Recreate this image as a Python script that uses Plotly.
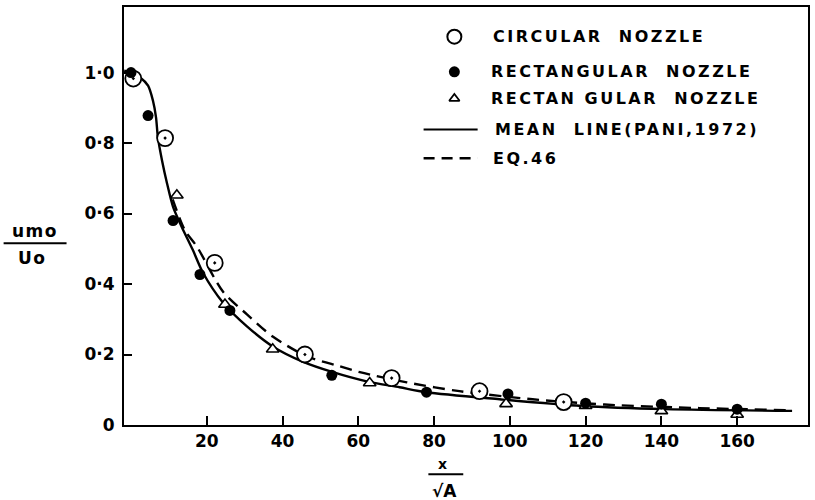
import plotly.graph_objects as go

# ---- measured centre-line velocity decay, u_mo / U_o against x / sqrt(A) ----
circ_x = [0.6, 9.0, 22.1, 45.9, 68.8, 92.0, 114.2]
circ_y = [0.983, 0.814, 0.46, 0.20, 0.133, 0.096, 0.065]

rect_x = [0.0, 4.5, 11.1, 18.2, 26.1, 53.0, 78.0, 99.5, 120.0, 140.0, 160.0]
rect_y = [1.0, 0.878, 0.58, 0.427, 0.325, 0.141, 0.093, 0.088, 0.062, 0.059, 0.045]

tri_x = [12.1, 24.8, 37.4, 63.0, 99.0, 120.0, 140.0, 160.0]
tri_y = [0.652, 0.342, 0.215, 0.119, 0.06, 0.055, 0.04, 0.03]

# mean line (Pani, 1972)
mean_x = [-1.8, 0.0, 2.4, 4.5, 5.8, 6.6, 7.1, 8.2, 9.5, 11.1, 13.4, 16.3, 19.0,
          24.3, 30.6, 37.4, 45.3, 53.3, 62.2, 70.9, 78.0, 97.3, 119.0, 141.0, 174.5]
mean_y = [1.005, 1.0, 0.986, 0.963, 0.92, 0.873, 0.816, 0.75, 0.686, 0.619, 0.562,
          0.497, 0.432, 0.347, 0.28, 0.223, 0.18, 0.15, 0.124, 0.107, 0.093, 0.073,
          0.054, 0.045, 0.04]

# equation 46
eq_x = [11.0, 14.2, 17.4, 24.3, 30.6, 37.4, 46.4, 55.0, 60.4, 72.8, 86.7, 106.0,
        125.0, 150.0, 174.0]
eq_y = [0.64, 0.553, 0.506, 0.378, 0.314, 0.251, 0.195, 0.167, 0.15, 0.121, 0.096,
        0.073, 0.058, 0.048, 0.042]

x_ticks = [20, 40, 60, 80, 100, 120, 140, 160]
y_ticks = [0, 0.2, 0.4, 0.6, 0.8, 1.0]
y_tick_text = ["0", "0·2", "0·4", "0·6", "0·8", "1·0"]

legend_labels = ["CIRCULAR  NOZZLE", "RECTANGULAR  NOZZLE", "RECTAN GULAR  NOZZLE",
                 "MEAN  LINE(PANI,1972)", "EQ.46"]

INK = "black"
FONT = "DejaVu Sans"

fig = go.Figure()

fig.add_trace(go.Scatter(x=mean_x, y=mean_y, mode="lines",
                         line=dict(color=INK, width=2.4, shape="spline", smoothing=0.8)))
fig.add_trace(go.Scatter(x=eq_x, y=eq_y, mode="lines",
                         line=dict(color=INK, width=2.4, dash="12px,7px",
                                   shape="spline", smoothing=0.8)))

fig.add_trace(go.Scatter(x=tri_x, y=tri_y, mode="markers",
                         marker=dict(symbol="triangle-up", size=11, color="white",
                                     line=dict(color=INK, width=1.6))))
fig.add_trace(go.Scatter(x=circ_x, y=circ_y, mode="markers",
                         marker=dict(symbol="circle-dot", size=16, color="white",
                                     line=dict(color=INK, width=1.8))))
fig.add_trace(go.Scatter(x=rect_x, y=rect_y, mode="markers",
                         marker=dict(symbol="circle", size=11, color=INK)))

# legend keys, drawn on an overlay axis pair spanning the plot area [0, 1]
key_rows = [0.929, 0.845, 0.781, 0.707, 0.638]
key_x = 0.483
fig.add_trace(go.Scatter(x=[key_x], y=[key_rows[0]], mode="markers", xaxis="x2", yaxis="y2",
                         marker=dict(symbol="circle-open", size=14, color=INK,
                                     line=dict(color=INK, width=2))))
fig.add_trace(go.Scatter(x=[key_x], y=[key_rows[1]], mode="markers", xaxis="x2", yaxis="y2",
                         marker=dict(symbol="circle", size=11, color=INK)))
fig.add_trace(go.Scatter(x=[key_x], y=[key_rows[2]], mode="markers", xaxis="x2", yaxis="y2",
                         marker=dict(symbol="triangle-up-open", size=9, color=INK,
                                     line=dict(color=INK, width=1.8))))
fig.add_trace(go.Scatter(x=[0.438, 0.517], y=[key_rows[3]] * 2, mode="lines",
                         xaxis="x2", yaxis="y2", line=dict(color=INK, width=2)))
fig.add_trace(go.Scatter(x=[0.438, 0.517], y=[key_rows[4]] * 2, mode="lines",
                         xaxis="x2", yaxis="y2", line=dict(color=INK, width=2.4,
                                                           dash="11px,7px")))

text_x = [0.537, 0.533, 0.533, 0.54, 0.537]
annotations = []
for lbl, tx, ty in zip(legend_labels, text_x, key_rows):
    annotations.append(dict(x=tx, y=ty, xref="paper", yref="paper",
                            text=f"<span style='letter-spacing:2.5px'>{lbl}</span>",
                            showarrow=False, xanchor="left", yanchor="middle",
                            font=dict(family=FONT, size=16, color=INK, weight="bold")))

# axis titles written as stacked fractions
label_font = dict(family=FONT, size=17, color=INK, weight="bold")
annotations += [
    dict(x=-0.13, y=0.463, xref="paper", yref="paper",
         text="<span style='letter-spacing:1.5px'>umo</span>", showarrow=False,
         xanchor="center", yanchor="middle", font=label_font),
    dict(x=-0.135, y=0.4, xref="paper", yref="paper",
         text="<span style='letter-spacing:1.5px'>Uo</span>", showarrow=False,
         xanchor="center", yanchor="middle", font=label_font),
    dict(x=0.466, y=-0.093, xref="paper", yref="paper", text="x", showarrow=False,
         xanchor="center", yanchor="middle", font=dict(family=FONT, size=14, color=INK,
                                                        weight="bold")),
    dict(x=0.468, y=-0.157, xref="paper", yref="paper", text="√A", showarrow=False,
         xanchor="center", yanchor="middle", font=label_font),
]
shapes = [
    dict(type="line", xref="paper", yref="paper", x0=-0.176, x1=-0.084, y0=0.435, y1=0.435,
         line=dict(color=INK, width=2)),
    dict(type="line", xref="paper", yref="paper", x0=0.445, x1=0.496, y0=-0.118, y1=-0.118,
         line=dict(color=INK, width=2)),
]

tick_font = dict(family=FONT, size=17, color=INK, weight="bold")
fig.update_layout(
    width=815, height=500,
    margin=dict(l=124, r=6, t=5, b=75),
    paper_bgcolor="white", plot_bgcolor="white",
    showlegend=False,
    annotations=annotations,
    shapes=shapes,
    xaxis=dict(range=[-1.85, 178.7], tickvals=x_ticks, ticks="inside", ticklen=9,
               tickwidth=2, tickcolor=INK, showline=True, linecolor=INK, linewidth=2,
               mirror=True, showgrid=False, zeroline=False, tickfont=tick_font),
    yaxis=dict(range=[0, 1.186], tickvals=y_ticks, ticktext=y_tick_text, ticks="inside",
               ticklen=8, tickwidth=2, tickcolor=INK, showline=True, linecolor=INK,
               linewidth=2, mirror=True, showgrid=False, zeroline=False,
               tickfont=tick_font, ticklabelstandoff=4),
    xaxis2=dict(range=[0, 1], overlaying="x", visible=False, fixedrange=True),
    yaxis2=dict(range=[0, 1], overlaying="y", visible=False, fixedrange=True),
)

fig.write_html("out.html")
